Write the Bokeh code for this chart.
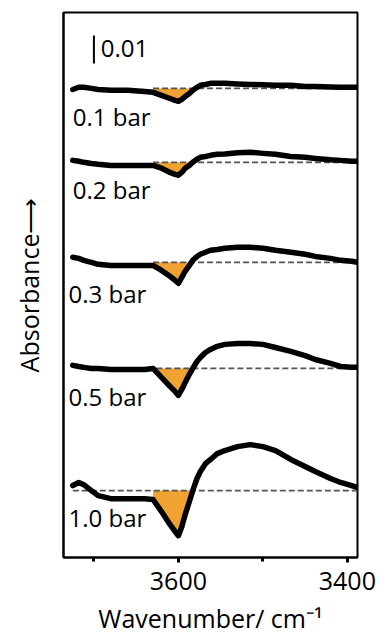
import numpy as np
from bokeh.plotting import figure
from bokeh.models import Range1d, FixedTicker, ColumnDataSource
from bokeh.embed import file_html
from bokeh.resources import INLINE
from bokeh.core.properties import value

# ---- data (absorbance change in units of 1e-3, relative to each trace's baseline) ----
wavenumber = [3725, 3718, 3712, 3703, 3695, 3680, 3660, 3640, 3630, 3620, 3610, 3604, 3600,
              3596, 3592, 3587, 3583, 3578, 3574, 3568, 3562, 3554, 3545, 3530, 3515, 3500,
              3485, 3467, 3450, 3438, 3420, 3408, 3395, 3388]
dA_01 = [-0.4, 0.4, 0.4, 0.0, -0.4, -0.7, -0.7, -1.1, -1.4, -2.5, -3.6, -4.3, -4.6,
         -3.9, -2.9, -1.8, -0.7, 0.4, 1.1, 1.4, 1.8, 1.8, 1.8, 1.6, 1.4, 1.3,
         1.1, 1.1, 0.7, 0.7, 0.5, 0.4, 0.4, 0.4]
dA_02 = [0.7, 0.4, 0.0, -0.4, -0.7, -1.1, -1.1, -1.1, -1.1, -2.1, -3.6, -4.3, -4.6,
         -3.6, -2.1, -1.1, 0.0, 1.1, 1.8, 2.1, 2.5, 2.9, 3.0, 3.4, 3.6, 3.2,
         2.9, 2.1, 1.8, 1.4, 0.9, 0.7, 0.4, 0.4]
dA_03 = [1.8, 1.4, 0.7, 0.0, -0.7, -1.1, -1.1, -1.1, -1.1, -2.9, -5.0, -6.4, -7.5,
         -5.4, -3.2, -1.1, 0.7, 2.1, 2.9, 3.6, 4.3, 4.6, 5.0, 5.4, 5.4, 5.0,
         4.3, 3.6, 2.9, 2.1, 1.4, 0.7, 0.4, 0.0]
dA_05 = [1.1, 0.7, 0.4, 0.0, 0.0, -0.4, -0.4, -0.4, 0.0, -3.2, -6.4, -8.2, -9.6,
         -7.5, -5.0, -2.1, 0.0, 2.5, 3.9, 5.7, 6.8, 7.9, 8.6, 8.9, 8.9, 8.6,
         7.5, 6.1, 4.6, 3.2, 1.8, 0.7, 0.4, 0.4]
dA_10 = [1.8, 2.9, 2.1, 0.0, -1.8, -2.9, -2.9, -2.9, -3.2, -7.5, -12.1, -14.6, -16.1,
         -12.9, -8.6, -3.9, 0.0, 4.3, 6.8, 9.6, 11.1, 13.2, 14.3, 15.7, 16.4, 15.7,
         14.3, 11.1, 8.6, 6.8, 4.3, 2.9, 1.8, 1.1]
series = [dA_01, dA_02, dA_03, dA_05, dA_10]
pressure_labels = ["0.1 bar", "0.2 bar", "0.3 bar", "0.5 bar", "1.0 bar"]
x_ticks = [3600, 3400]
x_minor_ticks = [3700, 3500]
scale_bar_value = 0.01
scale_bar_text = "0.01"
fill_range = (3630, 3583)

# ---- layout constants ----
offsets = [0.1675, 0.1411, 0.1054, 0.0675, 0.0239]
label_x = [3725, 3725, 3730, 3730, 3730]
label_y = [0.1575, 0.1314, 0.0943, 0.0575, 0.0143]
baseline_start = [3630, 3630, 3630, 3690, 3725]

FONT = "Open Sans"
ORANGE = "#F0A232"

p = figure(frame_width=294, frame_height=545, output_backend="svg", toolbar_location=None,
           x_range=Range1d(3736, 3388), y_range=Range1d(0, 0.1946),
           min_border_left=63, min_border_right=30, min_border_top=12, min_border_bottom=87)
p.xgrid.visible = False
p.ygrid.visible = False
p.outline_line_color = "black"
p.outline_line_width = 2
p.background_fill_color = "white"
p.border_fill_color = "white"

wn = np.array(wavenumber, dtype=float)
mask = (wn <= fill_range[0]) & (wn >= fill_range[1])

for dA, off, bstart in zip(series, offsets, baseline_start):
    y = off + np.array(dA) * 1e-3
    p.varea(x=wn[mask], y1=np.full(mask.sum(), off), y2=y[mask],
            fill_color=ORANGE, fill_alpha=1.0)
    p.line(x=[bstart, wavenumber[-1]], y=[off, off], line_color="#555555",
           line_width=1.8, line_dash="6 3")
    p.line(x=wn, y=y, line_color="black", line_width=5.5, line_join="round", line_cap="round")

src = ColumnDataSource(dict(x=label_x, y=label_y, t=pressure_labels))
p.text(x="x", y="y", text="t", source=src, text_font=value(FONT), text_font_size="24px",
       text_align="left", text_baseline="middle", text_color="black")

# scale bar
sb_x = 3700
sb_top = 0.1864
p.segment(x0=[sb_x], y0=[sb_top - scale_bar_value], x1=[sb_x], y1=[sb_top],
          line_color="black", line_width=2)
p.text(x=[3692], y=[sb_top - scale_bar_value / 2 + 0.0004], text=[scale_bar_text],
       text_font=value(FONT), text_font_size="24px", text_align="left",
       text_baseline="middle", text_color="black")

# x axis
xa = p.xaxis[0]
xa.ticker = FixedTicker(ticks=x_ticks, minor_ticks=x_minor_ticks)
xa.axis_label = "Wavenumber/ cm⁻¹"
xa.axis_label_text_font = FONT
xa.axis_label_text_font_size = "25px"
xa.axis_label_text_font_style = "normal"
xa.axis_label_text_color = "black"
xa.axis_label_standoff = 8
xa.major_label_text_font = FONT
xa.major_label_text_font_size = "25px"
xa.major_label_text_color = "black"
xa.major_label_standoff = 9
xa.axis_line_width = 2
xa.major_tick_in = 0
xa.major_tick_out = 5
xa.minor_tick_in = 0
xa.minor_tick_out = 4
xa.major_tick_line_width = 3
xa.minor_tick_line_width = 3

# y axis
ya = p.yaxis[0]
ya.ticker = FixedTicker(ticks=[])
ya.axis_label = "Absorbance⟶"
ya.axis_label_text_font = FONT
ya.axis_label_text_font_size = "25px"
ya.axis_label_text_font_style = "normal"
ya.axis_label_text_color = "black"
ya.axis_label_standoff = 18
ya.major_tick_out = 0
ya.major_label_standoff = 0
ya.axis_line_width = 2

open("out.html", "w").write(file_html(p, INLINE))
